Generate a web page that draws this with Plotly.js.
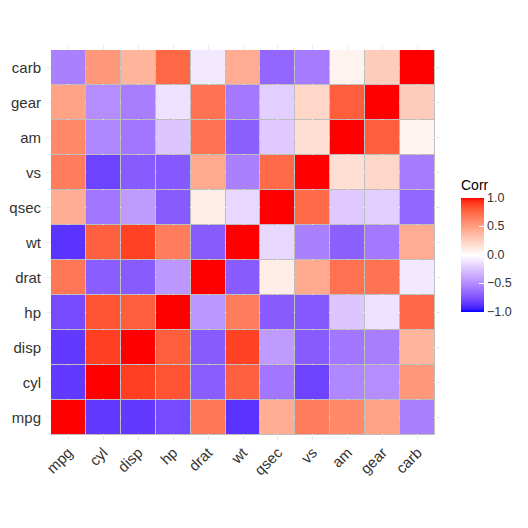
<!DOCTYPE html>
<html>
<head>
<meta charset="utf-8">
<script src="https://cdn.plot.ly/plotly-3.0.1.min.js"></script>
<style>
  html, body { margin: 0; padding: 0; background: #fff; }
  #corrPlot { width: 528px; height: 528px; }
</style>
</head>
<body>
<div id="corrPlot"></div>
<script>
// variables, bottom row to top row / left to right
const vars = ['mpg', 'cyl', 'disp', 'hp', 'drat', 'wt', 'qsec', 'vs', 'am', 'gear', 'carb'];

// correlation rows (same order as vars)
const rowMpg  = [ 1.00, -0.85, -0.85, -0.78,  0.68, -0.87,  0.42,  0.66,  0.60,  0.48, -0.55];
const rowCyl  = [-0.85,  1.00,  0.90,  0.83, -0.70,  0.78, -0.59, -0.81, -0.52, -0.49,  0.53];
const rowDisp = [-0.85,  0.90,  1.00,  0.79, -0.71,  0.89, -0.43, -0.71, -0.59, -0.56,  0.39];
const rowHp   = [-0.78,  0.83,  0.79,  1.00, -0.45,  0.66, -0.71, -0.72, -0.24, -0.13,  0.75];
const rowDrat = [ 0.68, -0.70, -0.71, -0.45,  1.00, -0.71,  0.09,  0.44,  0.71,  0.70, -0.09];
const rowWt   = [-0.87,  0.78,  0.89,  0.66, -0.71,  1.00, -0.17, -0.55, -0.69, -0.58,  0.43];
const rowQsec = [ 0.42, -0.59, -0.43, -0.71,  0.09, -0.17,  1.00,  0.74, -0.23, -0.21, -0.66];
const rowVs   = [ 0.66, -0.81, -0.71, -0.72,  0.44, -0.55,  0.74,  1.00,  0.17,  0.21, -0.57];
const rowAm   = [ 0.60, -0.52, -0.59, -0.24,  0.71, -0.69, -0.23,  0.17,  1.00,  0.79,  0.06];
const rowGear = [ 0.48, -0.49, -0.56, -0.13,  0.70, -0.58, -0.21,  0.21,  0.79,  1.00,  0.27];
const rowCarb = [-0.55,  0.53,  0.39,  0.75, -0.09,  0.43, -0.66, -0.57,  0.06,  0.27,  1.00];

const corr = [rowMpg, rowCyl, rowDisp, rowHp, rowDrat, rowWt, rowQsec, rowVs, rowAm, rowGear, rowCarb];

const barTicks = [-1, -0.5, 0, 0.5, 1];

// ggplot blends blue-white-red in Lab space, so build the scale the same way
function labToHex(L, a, b) {
    const fy = (L + 16) / 116, fx = fy + a / 500, fz = fy - b / 200;
    const inv = t => t > 6 / 29 ? t * t * t : 3 * (6 / 29) * (6 / 29) * (t - 4 / 29);
    const X = 0.95047 * inv(fx), Y = inv(fy), Z = 1.08883 * inv(fz);
    const lin = [
        3.2406 * X - 1.5372 * Y - 0.4986 * Z,
        -0.9689 * X + 1.8758 * Y + 0.0415 * Z,
        0.0557 * X - 0.2040 * Y + 1.0570 * Z
    ];
    return '#' + lin.map(c => {
        let v = c <= 0.0031308 ? 12.92 * c : 1.055 * Math.pow(c, 1 / 2.4) - 0.055;
        v = Math.round(Math.min(1, Math.max(0, v)) * 255);
        return v.toString(16).padStart(2, '0');
    }).join('');
}

const labBlue = [32.303, 79.197, -107.864];
const labWhite = [100, 0, 0];
const labRed = [53.241, 80.092, 67.203];

const colorscale = [];
for (let i = 0; i <= 40; i++) {
    const s = i / 40;
    let from, to, t;
    if (s <= 0.5) { from = labBlue; to = labWhite; t = s / 0.5; }
    else { from = labWhite; to = labRed; t = (s - 0.5) / 0.5; }
    const L = from[0] + (to[0] - from[0]) * t;
    const a = from[1] + (to[1] - from[1]) * t;
    const b = from[2] + (to[2] - from[2]) * t;
    colorscale.push([s, labToHex(L, a, b)]);
}

const data = [{
    type: 'heatmap',
    x: vars,
    y: vars,
    z: corr,
    zmin: -1,
    zmax: 1,
    colorscale: colorscale,
    xgap: 1,
    ygap: 1,
    hoverongaps: false,
    colorbar: {
        title: { text: 'Corr', side: 'top', font: { family: 'Liberation Sans, Arial, sans-serif', size: 14, color: '#000' } },
        x: 1.0506,
        xanchor: 'left',
        y: 0.496,
        yanchor: 'middle',
        xpad: 0,
        ypad: 0,
        len: 135,
        lenmode: 'pixels',
        thickness: 23,
        thicknessmode: 'pixels',
        outlinewidth: 0,
        tickvals: barTicks,
        tickformat: '.1f',
        ticks: 'inside',
        ticklen: 5,
        tickcolor: '#fff',
        tickfont: { family: 'Liberation Sans, Arial, sans-serif', size: 12.5, color: '#333' }
    }
}];

const axisFont = { family: 'Liberation Sans, Arial, sans-serif', size: 15, color: '#333' };

const layout = {
    width: 528,
    height: 528,
    margin: { l: 46, r: 87, t: 45, b: 88 },
    paper_bgcolor: '#fff',
    plot_bgcolor: '#fff',
    xaxis: {
        type: 'category',
        range: [-0.643, 10.643],
        showgrid: true,
        gridcolor: '#EBEBEB',
        zeroline: false,
        showline: false,
        ticks: '',
        tickangle: -45,
        tickfont: axisFont,
        fixedrange: true
    },
    yaxis: {
        type: 'category',
        range: [-0.643, 10.643],
        showgrid: true,
        gridcolor: '#EBEBEB',
        zeroline: false,
        showline: false,
        ticks: '',
        tickfont: axisFont,
        ticklabelstandoff: 4,
        fixedrange: true
    },
    // grey tile outline shows through the heatmap gaps
    shapes: [{
        type: 'rect', layer: 'below',
        xref: 'x', yref: 'y',
        x0: -0.5, x1: 10.5, y0: -0.5, y1: 10.5,
        fillcolor: '#BEBEBE',
        line: { width: 0 }
    }]
};

Plotly.newPlot('corrPlot', data, layout, { displayModeBar: false, staticPlot: true });
</script>
</body>
</html>
